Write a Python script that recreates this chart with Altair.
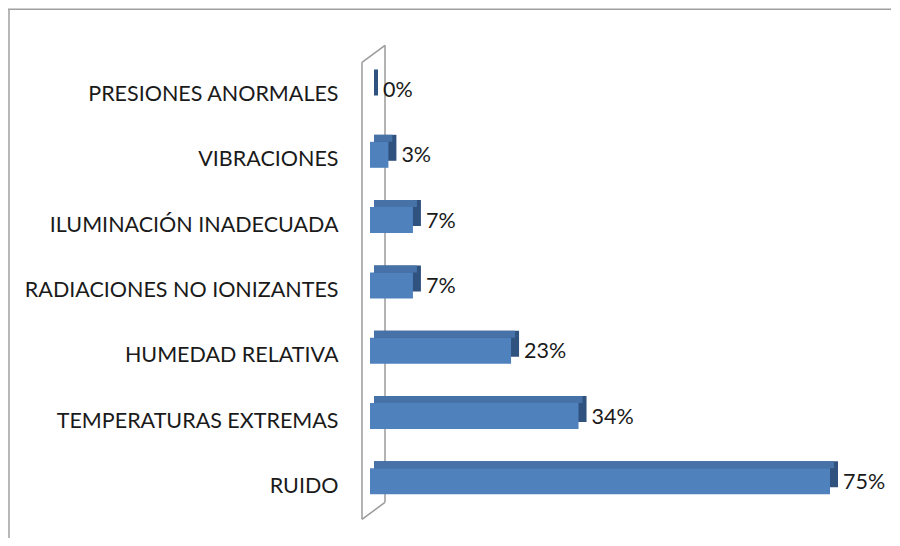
import altair as alt
import pandas as pd

categories = ["PRESIONES ANORMALES", "VIBRACIONES ", "ILUMINACIÓN INADECUADA",
              "RADIACIONES NO IONIZANTES", "HUMEDAD RELATIVA",
              "TEMPERATURAS EXTREMAS", "RUIDO"]
values = [0, 3, 7, 7, 23, 34, 75]
labels = ["0%", "3%", "7%", "7%", "23%", "34%", "75%"]

df = pd.DataFrame({"cat": categories, "value": values, "label": labels})

FRONT = "#4F81BD"
TOP = "#4672A8"
SIDE = "#30527F"
FONT = "Lato"
FS = 21.5

xs = alt.Scale(domain=[0, 75], nice=False, zero=True)
ys = alt.Scale(domain=categories, paddingInner=0.6018, paddingOuter=0.3009)

X0 = alt.X("start:Q", scale=xs, axis=None)
Y = alt.Y("cat:N", scale=ys, sort=categories, title=None,
          axis=alt.Axis(ticks=False, domain=False, grid=False, labelPadding=32,
                        labelFontSize=FS, labelFont=FONT, labelColor="#1a1a1a",
                        labelLimit=0))

base = alt.Chart(df).transform_calculate(start="0")

side = base.mark_bar(color=SIDE, xOffset=4, x2Offset=8, yOffset=-12.5).encode(
    x=X0, x2="value:Q", y=Y)
top = base.mark_bar(color=TOP, height=7, xOffset=4, x2Offset=4, yOffset=-22).encode(
    x=X0, x2="value:Q", y=Y)
front = base.mark_bar(color=FRONT, yOffset=-5.5).encode(
    x=X0, x2="value:Q", y=Y)
text = base.mark_text(align="left", baseline="middle", dx=13, dy=-4,
                      font=FONT, fontSize=FS, color="#1a1a1a").encode(
    x=alt.X("value:Q", scale=xs, axis=None), y=Y, text="label:N")

one = alt.Chart(pd.DataFrame({"a": [0]}))
WALL = "#9a9a9a"
wall_left = one.mark_rule(color=WALL, strokeWidth=1.5).encode(
    x=alt.value(-8), x2=alt.value(-8), y=alt.value(0), y2=alt.value(457))
wall_right = one.mark_rule(color=WALL, strokeWidth=1.5).encode(
    x=alt.value(15), x2=alt.value(15), y=alt.value(-17), y2=alt.value(440))
wall_top = one.mark_rule(color=WALL, strokeWidth=1.5).encode(
    x=alt.value(-8), x2=alt.value(15), y=alt.value(0), y2=alt.value(-17))
wall_bot = one.mark_rule(color=WALL, strokeWidth=1.5).encode(
    x=alt.value(-8), x2=alt.value(15), y=alt.value(457), y2=alt.value(440))

FRAME = "#a0a0a0"
frame_top = one.mark_rule(color=FRAME, strokeWidth=1.5).encode(
    x=alt.value(-362), x2=alt.value(521), y=alt.value(-53), y2=alt.value(-53))
frame_left = one.mark_rule(color=FRAME, strokeWidth=1.5).encode(
    x=alt.value(-361), x2=alt.value(-361), y=alt.value(-53), y2=alt.value(480))

chart = alt.layer(
    frame_top, frame_left, wall_left, wall_right, wall_top, wall_bot,
    side, top, front, text
).properties(
    width=460, height=457.1,
    background="white",
    autosize=alt.AutoSizeParams(type="none"),
    padding={"left": 362, "top": 54.35, "right": 62, "bottom": 18.55},
).configure_view(strokeWidth=0, stroke="transparent")

chart.save("out.html", embed_options={"renderer": "svg", "actions": False})
